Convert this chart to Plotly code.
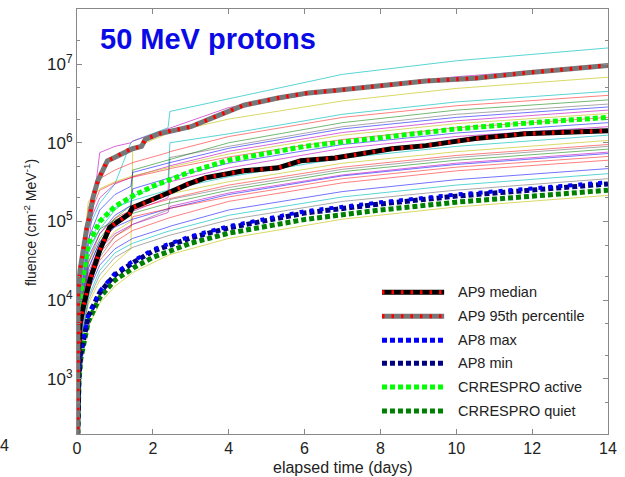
import plotly.graph_objects as go

# ---------------- data ----------------
thin_times = [0.01, 0.1, 0.3, 0.6, 1.0, 1.42, 1.47, 2.4, 2.45, 4, 7, 10, 14]

run_01 = [200, 1.5e4, 8e4, 1.7e5, 3e5, 1.0e6, 1.05e6, 1.55e6, 2.5e6, 3.6e6, 7.4e6, 1.1e7, 1.6e7]
run_02 = [150, 1.2e4, 5e4, 7.5e5, 9e5, 1.0e6, 1.05e6, 1.5e6, 1.55e6, 2.8e6, 4.8e6, 6.9e6, 9.6e6]
run_03 = [50, 3e3, 9e3, 1.8e4, 3e4, 4.5e4, 8.5e5, 1.3e6, 1.35e6, 2.0e6, 3.4e6, 4.9e6, 6.8e6]
run_04 = [100, 1e4, 4e4, 8e4, 1.4e5, 2e5, 2.1e5, 3.2e5, 1.0e6, 1.3e6, 2.3e6, 3.3e6, 4.5e6]
run_05 = [300, 3e4, 1.5e5, 3.5e5, 4.5e5, 5.5e5, 5.6e5, 7.5e5, 7.7e5, 1.2e6, 2.1e6, 2.95e6, 4.0e6]
run_06 = [80, 8e3, 3e4, 6e4, 1.1e5, 1.6e5, 4.5e5, 6e5, 6.2e5, 1.0e6, 1.8e6, 2.6e6, 3.5e6]
run_07 = [60, 6e3, 2.5e4, 5.5e4, 1.0e5, 1.4e5, 1.45e5, 2.4e5, 6.5e5, 9e5, 1.6e6, 2.3e6, 3.1e6]
run_08 = [100, 1.2e4, 6e4, 1.4e5, 2.2e5, 2.8e5, 4.2e5, 5.5e5, 5.6e5, 8.5e5, 1.5e6, 2.1e6, 2.85e6]
run_09 = [120, 1.5e4, 9e4, 2e5, 3e5, 3.6e5, 3.7e5, 5e5, 5.1e5, 7.8e5, 1.35e6, 1.9e6, 2.6e6]
run_10 = [150, 2e4, 1.8e5, 2.6e5, 3.2e5, 3.7e5, 3.8e5, 4.8e5, 4.9e5, 7.2e5, 1.25e6, 1.75e6, 2.35e6]
run_11 = [250, 2.5e4, 1.1e5, 2.5e5, 3.1e5, 3.6e5, 3.65e5, 4.6e5, 4.7e5, 6.6e5, 1.1e6, 1.55e6, 2.1e6]
run_12 = [80, 8e3, 3.5e4, 7e4, 1.2e5, 1.6e5, 2.6e5, 3.5e5, 3.6e5, 5.5e5, 9.5e5, 1.33e6, 1.8e6]
run_13 = [60, 6e3, 2.2e4, 5e4, 9e4, 1.3e5, 1.35e5, 2e5, 3.2e5, 4.8e5, 8.5e5, 1.2e6, 1.6e6]
run_14 = [100, 1e4, 5e4, 1e5, 1.5e5, 1.8e5, 1.85e5, 2.5e5, 2.55e5, 3.7e5, 6.4e5, 9e5, 1.25e6]
run_15 = [50, 5e3, 2e4, 4.5e4, 7.5e4, 1.0e5, 1.6e5, 2.2e5, 2.25e5, 3.2e5, 5.5e5, 7.7e5, 1.07e6]
run_16 = [70, 7e3, 3e4, 7e4, 1.1e5, 1.4e5, 1.42e5, 1.9e5, 1.95e5, 2.9e5, 4.9e5, 6.9e5, 9.5e5]
run_17 = [40, 4e3, 1.6e4, 3.5e4, 6.5e4, 9e4, 9.2e4, 1.4e5, 1.9e5, 2.7e5, 4.6e5, 6.5e5, 9.0e5]
run_18 = [90, 9e3, 4.5e4, 8e4, 1.05e5, 1.25e5, 1.27e5, 1.7e5, 1.72e5, 2.5e5, 4.3e5, 6e5, 8.3e5]
run_19 = [50, 5e3, 2e4, 4.5e4, 7e4, 9e4, 9.2e4, 1.3e5, 1.55e5, 2.3e5, 3.9e5, 5.5e5, 7.6e5]
run_20 = [60, 6e3, 2.6e4, 5.5e4, 8.5e4, 1.05e5, 1.07e5, 1.45e5, 1.47e5, 2.2e5, 3.8e5, 5.3e5, 7.3e5]
run_21 = [45, 4.5e3, 1.8e4, 4e4, 6.5e4, 8.5e4, 1.15e5, 1.45e5, 1.47e5, 2.05e5, 3.5e5, 4.9e5, 6.7e5]
run_22 = [40, 4e3, 1.5e4, 3.2e4, 5.5e4, 7.5e4, 7.7e4, 1.1e5, 1.12e5, 1.8e5, 3.1e5, 4.4e5, 6.0e5]
run_23 = [40, 3.5e3, 1.3e4, 2.8e4, 4.5e4, 6e4, 6.1e4, 8.5e4, 8.7e4, 1.4e5, 2.4e5, 3.4e5, 4.7e5]
run_24 = [30, 3e3, 1.1e4, 2.4e4, 4e4, 5.2e4, 5.3e4, 7.5e4, 7.6e4, 1.2e5, 2.05e5, 2.9e5, 4.05e5]
run_25 = [30, 2.8e3, 1e4, 2.1e4, 3.5e4, 4.6e4, 4.7e4, 6.6e4, 6.7e4, 1.05e5, 1.8e5, 2.5e5, 3.5e5]
run_26 = [15, 1.5e3, 4.6e3, 9.2e3, 1.5e4, 2.2e4, 2.25e4, 3.7e4, 3.8e4, 6.1e4, 1.07e5, 1.53e5, 2.15e5]

thin_runs = [run_01, run_02, run_03, run_04, run_05, run_06, run_07, run_08, run_09,
             run_10, run_11, run_12, run_13, run_14, run_15, run_16, run_17, run_18,
             run_19, run_20, run_21, run_22, run_23, run_24, run_25, run_26]
thin_color_names = ["c", "m", "y", "c", "r", "g", "k", "b", "m", "y", "r", "b", "m",
                    "c", "y", "r", "k", "g", "m", "b", "r", "r", "b", "c", "k", "y"]

t_ap9_95 = [0.005, 0.03, 0.08, 0.16, 0.2, 0.26, 0.34, 0.42, 0.55, 0.68, 0.8, 0.99, 1.3, 1.46,
            1.7, 1.8, 2.16, 2.42, 3.0, 3.6, 4.2, 4.4, 5.3, 6.1, 6.8, 7.9, 9.2, 10.5, 11.8, 14]
f_ap9_95 = [100, 1.2e4, 2.4e4, 4.5e4, 6.3e4, 8.4e4, 1.2e5, 2.0e5, 3.3e5, 4.4e5, 5.9e5, 6.5e5,
            7.9e5, 8.4e5, 9.0e5, 1.1e6, 1.3e6, 1.4e6, 1.6e6, 2.1e6, 2.7e6, 3.0e6, 3.7e6, 4.3e6,
            4.6e6, 5.2e6, 6.1e6, 6.6e6, 7.7e6, 9.6e6]

t_ap9_med = [0.005, 0.03, 0.08, 0.16, 0.34, 0.6, 0.86, 1.1, 1.38, 1.46, 1.9, 2.4, 2.94, 3.4,
             4.4, 5.3, 5.9, 6.8, 8.3, 9.2, 10.5, 11.8, 14]
f_ap9_med = [60, 1.5e3, 5e3, 8e3, 1.8e4, 4.3e4, 8.4e4, 1.0e5, 1.25e5, 1.5e5, 1.8e5, 2.3e5,
             3.0e5, 3.6e5, 4.4e5, 4.8e5, 5.9e5, 6.4e5, 8.4e5, 9.2e5, 1.13e6, 1.3e6, 1.42e6]

t_model = [0.005, 0.05, 0.1, 0.3, 0.6, 1, 1.5, 2, 3, 4, 6, 8, 10, 12, 14]
f_ap8_max = [100, 1.1e3, 2.2e3, 6.6e3, 1.3e4, 2.2e4, 3.2e4, 4.4e4, 6.5e4, 8.7e4, 1.35e5, 1.75e5, 2.2e5, 2.65e5, 3.15e5]
f_ap8_min = [95, 1.05e3, 2.1e3, 6.3e3, 1.25e4, 2.1e4, 3.05e4, 4.2e4, 6.2e4, 8.3e4, 1.28e5, 1.67e5, 2.1e5, 2.52e5, 3.0e5]
f_crres_active = [500, 6e3, 1.3e4, 5.2e4, 1.0e5, 1.55e5, 2.15e5, 2.8e5, 4.3e5, 6e5, 9e5, 1.18e6, 1.5e6, 1.8e6, 2.1e6]
f_crres_quiet = [80, 900, 1.8e3, 5.4e3, 1.08e4, 1.8e4, 2.6e4, 3.5e4, 5.3e4, 7.1e4, 1.06e5, 1.4e5, 1.76e5, 2.12e5, 2.5e5]

x_ticks = [0, 2, 4, 6, 8, 10, 12, 14]
y_tickvals = [1e3, 1e4, 1e5, 1e6, 1e7]
y_ticktext = ["10<sup>3</sup>", "10<sup>4</sup>", "10<sup>5</sup>", "10<sup>6</sup>", "10<sup>7</sup>"]

legend_labels = ["AP9 median", "AP9 95th percentile", "AP8 max", "AP8 min",
                 "CRRESPRO active", "CRRESPRO quiet"]

# ---------------- styles ----------------
thin_colors = {
    "c": "rgba(0,191,191,0.65)", "m": "rgba(191,0,191,0.6)", "y": "rgba(191,191,0,0.6)",
    "r": "rgba(255,0,0,0.5)", "g": "rgba(0,128,0,0.55)", "b": "rgba(0,0,255,0.55)",
    "k": "rgba(64,64,64,0.45)",
}
RED_DASH = "2.5px,7px"
SQ_DASH = "5px,3px"
FONT = "Liberation Sans, Arial, sans-serif"

fig = go.Figure()

for run, cn in zip(thin_runs, thin_color_names):
    fig.add_trace(go.Scatter(x=thin_times, y=run, mode="lines",
                             line=dict(color=thin_colors[cn], width=1),
                             showlegend=False, hoverinfo="skip"))

# thick model lines
fig.add_trace(go.Scatter(x=t_model, y=f_crres_quiet, mode="lines",
                         line=dict(color="#008000", width=5, dash=SQ_DASH), showlegend=False))
fig.add_trace(go.Scatter(x=t_model, y=f_ap8_min, mode="lines",
                         line=dict(color="#000080", width=5, dash=SQ_DASH), showlegend=False))
fig.add_trace(go.Scatter(x=t_model, y=f_ap8_max, mode="lines",
                         line=dict(color="#0000FF", width=4, dash="4px,6px"), showlegend=False))
fig.add_trace(go.Scatter(x=t_model, y=f_crres_active, mode="lines",
                         line=dict(color="#00FF00", width=5, dash=SQ_DASH), showlegend=False))
fig.add_trace(go.Scatter(x=t_ap9_med, y=f_ap9_med, mode="lines",
                         line=dict(color="#000000", width=5), showlegend=False))
fig.add_trace(go.Scatter(x=t_ap9_med, y=f_ap9_med, mode="lines",
                         line=dict(color="#FF0000", width=4, dash=RED_DASH), showlegend=False))
fig.add_trace(go.Scatter(x=t_ap9_95, y=f_ap9_95, mode="lines",
                         line=dict(color="#777777", width=5), showlegend=False))
fig.add_trace(go.Scatter(x=t_ap9_95, y=f_ap9_95, mode="lines",
                         line=dict(color="#FF0000", width=4, dash=RED_DASH), showlegend=False))

# ---------------- custom legend ----------------
leg_styles = [
    [("#000000", 5, "solid"), ("#FF0000", 4, RED_DASH)],
    [("#777777", 5, "solid"), ("#FF0000", 4, RED_DASH)],
    [("#0000FF", 5, SQ_DASH)],
    [("#000080", 5, SQ_DASH)],
    [("#00FF00", 5, SQ_DASH)],
    [("#008000", 5, SQ_DASH)],
]
L, W, T, B = 77, 538, 8, 426
def px(xp):
    return (xp - L) / W
def py(yp):
    return (T + B - yp) / B

leg_y = [292, 316, 340, 363, 387, 411]
shapes = []
annotations = []
for lbl, styles, yy in zip(legend_labels, leg_styles, leg_y):
    for col, wdt, dsh in styles:
        shapes.append(dict(type="line", xref="paper", yref="paper",
                           x0=px(386), x1=px(449), y0=py(yy), y1=py(yy),
                           line=dict(color=col, width=wdt, dash=dsh)))
    annotations.append(dict(text=lbl, xref="paper", yref="paper", x=px(461), y=py(yy),
                            xanchor="left", yanchor="middle", showarrow=False,
                            font=dict(family=FONT, size=14.5, color="#222222")))

annotations.append(dict(text="<b>50 MeV protons</b>", xref="paper", yref="paper",
                        x=px(98), y=py(38), xanchor="left", yanchor="middle", showarrow=False,
                        font=dict(family=FONT, size=29, color="#0A0AE6")))
annotations.append(dict(text="fluence (cm<sup>-2</sup> MeV<sup>-1</sup>)", xref="paper", yref="paper",
                        x=px(30), y=py(222), xanchor="center", yanchor="middle", showarrow=False,
                        textangle=-90, font=dict(family=FONT, size=14, color="#222222")))
annotations.append(dict(text="elapsed time (days)", xref="paper", yref="paper",
                        x=px(346), y=py(468), xanchor="center", yanchor="middle", showarrow=False,
                        font=dict(family=FONT, size=16, color="#222222")))
annotations.append(dict(text="4", xref="paper", yref="paper",
                        x=px(4), y=py(446), xanchor="center", yanchor="middle", showarrow=False,
                        font=dict(family=FONT, size=16, color="#222222")))

fig.update_layout(
    width=625, height=477,
    margin=dict(l=77, r=10, t=8, b=43),
    paper_bgcolor="white", plot_bgcolor="white",
    showlegend=False,
    shapes=shapes, annotations=annotations,
    xaxis=dict(range=[0, 14], tickvals=x_ticks, ticks="inside", ticklen=5,
               tickcolor="#888888", showline=True, linecolor="#888888", linewidth=1,
               mirror="ticks", showgrid=False, zeroline=False,
               tickfont=dict(family=FONT, size=16, color="#222222")),
    yaxis=dict(type="log", range=[2.301, 7.699], tickvals=y_tickvals, ticktext=y_ticktext,
               ticks="inside", ticklen=5, tickcolor="#888888", showline=True,
               linecolor="#888888", linewidth=1, mirror="ticks", showgrid=False,
               zeroline=False, tickfont=dict(family=FONT, size=17, color="#222222"),
               minor=dict(ticks="inside", ticklen=3, tickcolor="#888888", showgrid=False)),
)

fig.write_html("out.html")
